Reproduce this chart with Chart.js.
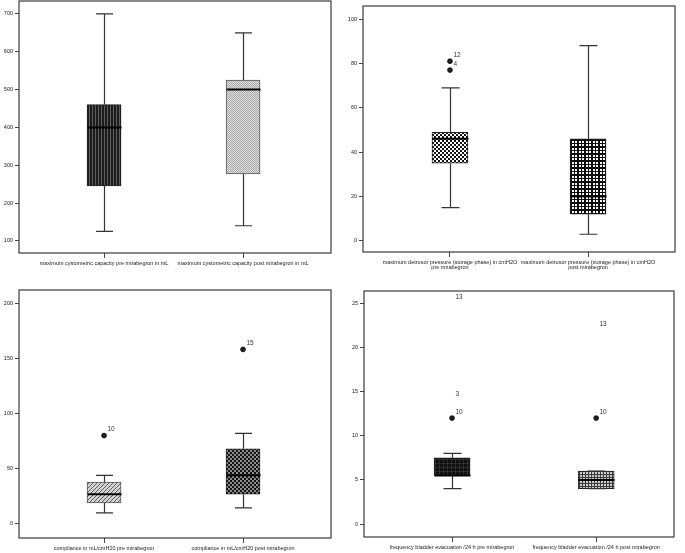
<!DOCTYPE html>
<html>
<head>
<meta charset="utf-8">
<script src="https://cdn.jsdelivr.net/npm/chart.js@4.4.1/dist/chart.umd.min.js"></script>
<style>
  body { margin: 0; background: #fff; }
  #wrap { position: relative; width: 685px; height: 553px; overflow: hidden; }
  canvas { position: absolute; }
</style>
</head>
<body>
<div id="wrap">
  <canvas id="capacity" width="340" height="280" style="left:0;top:0"></canvas>
  <canvas id="pressure" width="345" height="280" style="left:340px;top:0"></canvas>
  <canvas id="compliance" width="340" height="273" style="left:0;top:280px"></canvas>
  <canvas id="frequency" width="345" height="273" style="left:340px;top:280px"></canvas>
</div>
<script>
// Maximum cystometric capacity (mL)
const capacityLabels = ['maximum cystometric capacity pre mirabegron in mL', 'maximum cystometric capacity post mirabegron in mL'];
const capacityMin = [125, 140];
const capacityQ1 = [245, 277];
const capacityMedian = [400, 500];
const capacityQ3 = [460, 525];
const capacityMax = [700, 650];
const capacityOutliers = [[], []];
const capacityTicks = [100, 200, 300, 400, 500, 600, 700];

// Maximum detrusor pressure (cmH2O)
const pressureLabels = [['maximum detrusor pressure (storage phase) in cmH2O', 'pre mirabegron'], ['maximum detrusor pressure (storage phase) in cmH2O', 'post mirabegron']];
const pressureMin = [15, 3];
const pressureQ1 = [35, 12];
const pressureMedian = [46, 20];
const pressureQ3 = [49, 46];
const pressureMax = [69, 88];
const pressureOutliers = [[{ value: 81, label: '12' }, { value: 77, label: '4' }], []];
const pressureTicks = [0, 20, 40, 60, 80, 100];

// Compliance (mL/cmH20)
const complianceLabels = ['compliance in mL/cmH20 pre mirabegron', 'compliance in mL/cmH20 post mirabegron'];
const complianceMin = [10, 14.5];
const complianceQ1 = [19, 27];
const complianceMedian = [27, 44];
const complianceQ3 = [38, 68];
const complianceMax = [44, 82];
const complianceOutliers = [[{ value: 80, label: '10' }], [{ value: 158, label: '15' }]];
const complianceTicks = [0, 50, 100, 150, 200];

// Frequency bladder evacuation /24 h (extremes 3 and 13 have their number but no marker)
const frequencyLabels = ['frequency bladder evacuation /24 h pre mirabegron', 'frequency bladder evacuation /24 h post mirabegron'];
const frequencyMin = [4, 4];
const frequencyQ1 = [5.5, 4];
const frequencyMedian = [5.5, 5];
const frequencyQ3 = [7.5, 6];
const frequencyMax = [8, 6];
const frequencyOutliers = [
    [{ value: 12, label: '10' }, { value: 14, label: '3', noDot: true }, { value: 25, label: '13', noDot: true }],
    [{ value: 12, label: '10' }, { value: 22, label: '13', noDot: true }]
];
const frequencyTicks = [0, 5, 10, 15, 20, 25];

const FONT = 'Liberation Sans, Arial, sans-serif';

function makePattern(size, bg, draw) {
    const c = document.createElement('canvas');
    c.width = c.height = size;
    const g = c.getContext('2d');
    g.fillStyle = bg;
    g.fillRect(0, 0, size, size);
    draw(g);
    return g.createPattern(c, 'repeat');
}

const patterns = {
    stripes: makePattern(3, '#1c1c1c', g => { g.fillStyle = '#5e5e5e'; g.fillRect(2, 0, 1, 3); }),
    lightDots: makePattern(2, '#e0e0e0', g => { g.fillStyle = '#a8a8a8'; g.fillRect(0, 0, 1, 1); g.fillRect(1, 1, 1, 1); }),
    checker: makePattern(4, '#111', g => { g.fillStyle = '#fff'; g.fillRect(0, 0, 2, 2); g.fillRect(2, 2, 2, 2); }),
    grid: makePattern(7, '#0c0c0c', g => { g.fillStyle = '#fff'; [1, 4].forEach(a => [1, 4].forEach(b => g.fillRect(a, b, 2, 2))); }),
    hatch: makePattern(4, '#d4d4d4', g => { g.fillStyle = '#5a5a5a'; g.fillRect(3, 0, 1, 1); g.fillRect(2, 1, 1, 1); g.fillRect(1, 2, 1, 1); g.fillRect(0, 3, 1, 1); }),
    darkChecker: makePattern(4, '#141414', g => { g.fillStyle = '#8c8c8c'; g.fillRect(0, 0, 2, 2); g.fillRect(2, 2, 2, 2); }),
    black: makePattern(4, '#0e0e0e', g => { g.fillStyle = '#2e2e2e'; g.fillRect(3, 0, 1, 4); g.fillRect(0, 3, 4, 1); }),
    mesh: makePattern(3, '#cdcdcd', g => { g.fillStyle = '#3a3a3a'; g.fillRect(2, 0, 1, 3); g.fillRect(0, 2, 3, 1); })
};

function makeBoxChart(id, d, lay) {
    const ctx = document.getElementById(id).getContext('2d');

    // whiskers, caps, medians, outlier numbers and frame
    const boxPlugin = {
        id: 'boxPlot',
        afterDatasetsDraw(chart) {
            const { ctx, chartArea, scales: { x, y } } = chart;
            ctx.save();
            d.median.forEach((m, i) => {
                const cx = Math.round(x.getPixelForValue(i + 1)) + 0.5;
                const cap = lay.barWidth / 4;
                ctx.strokeStyle = '#333';
                ctx.lineWidth = 1.2;
                ctx.beginPath();
                ctx.moveTo(cx, y.getPixelForValue(d.q3[i]));
                ctx.lineTo(cx, y.getPixelForValue(d.max[i]));
                ctx.moveTo(cx, y.getPixelForValue(d.q1[i]));
                ctx.lineTo(cx, y.getPixelForValue(d.min[i]));
                [d.max[i], d.min[i]].forEach(v => {
                    const py = y.getPixelForValue(v);
                    ctx.moveTo(cx - cap, py);
                    ctx.lineTo(cx + cap, py);
                });
                ctx.stroke();

                ctx.strokeStyle = '#000';
                ctx.lineWidth = 2;
                ctx.beginPath();
                const my = y.getPixelForValue(m);
                ctx.moveTo(cx - lay.barWidth / 2, my);
                ctx.lineTo(cx + lay.barWidth / 2, my);
                ctx.stroke();

                ctx.fillStyle = '#333';
                ctx.font = '6.5px ' + FONT;
                ctx.textAlign = 'left';
                ctx.textBaseline = 'middle';
                d.outliers[i].forEach(o => {
                    ctx.fillText(o.label, cx + 3, y.getPixelForValue(o.value) - 6);
                });
            });
            ctx.strokeStyle = '#3a3a3a';
            ctx.lineWidth = 1.2;
            ctx.strokeRect(chartArea.left, chartArea.top, chartArea.right - chartArea.left, chartArea.bottom - chartArea.top);
            ctx.restore();
        }
    };

    const outlierPoints = [];
    const outlierRadius = [];
    d.outliers.forEach((list, i) => list.forEach(o => {
        outlierPoints.push({ x: i + 1, y: o.value });
        outlierRadius.push(o.noDot ? 0 : 2.4);
    }));

    return new Chart(ctx, {
        type: 'bar',
        data: {
            datasets: [{
                data: d.q1.map((q, i) => ({ x: i + 1, y: [q, d.q3[i]] })),
                backgroundColor: d.fills,
                borderColor: d.borders || '#222',
                borderWidth: 1,
                borderSkipped: false,
                barThickness: lay.barWidth
            }, {
                type: 'scatter',
                data: outlierPoints,
                pointRadius: outlierRadius,
                backgroundColor: '#222',
                borderColor: '#000',
                borderWidth: 0.8
            }]
        },
        options: {
            responsive: false,
            animation: false,
            layout: { padding: { top: lay.top, right: lay.right, left: 0, bottom: 0 } },
            plugins: { legend: { display: false }, tooltip: { enabled: false } },
            scales: {
                x: {
                    type: 'linear',
                    offset: false,
                    min: lay.xMin,
                    max: lay.xMax,
                    afterBuildTicks: s => { s.ticks = [1, 2].map(v => ({ value: v })); },
                    afterFit: s => { s.height = lay.xHeight; s.paddingLeft = 0; s.paddingRight = 0; },
                    ticks: {
                        autoSkip: false,
                        maxRotation: 0,
                        padding: 3,
                        color: '#222',
                        font: { family: FONT, size: 5.5, lineHeight: 0.9 },
                        callback: v => d.labels[v - 1]
                    },
                    grid: { offset: false, drawOnChartArea: false, tickLength: 5, color: '#444' },
                    border: { display: false }
                },
                y: {
                    min: lay.yMin,
                    max: lay.yMax,
                    afterBuildTicks: s => { s.ticks = d.ticks.map(v => ({ value: v })); },
                    afterFit: s => { s.width = lay.yWidth; s.paddingTop = 0; s.paddingBottom = 0; },
                    ticks: { padding: 2, color: '#222', font: { family: FONT, size: 5.5 } },
                    grid: { drawOnChartArea: false, tickLength: 4, color: '#444' },
                    border: { display: false }
                }
            }
        },
        plugins: [boxPlugin]
    });
}

makeBoxChart('capacity', {
    labels: capacityLabels, min: capacityMin, q1: capacityQ1, median: capacityMedian,
    q3: capacityQ3, max: capacityMax, outliers: capacityOutliers, ticks: capacityTicks,
    fills: [patterns.stripes, patterns.lightDots], borders: ['#222', '#555']
}, { top: 1, right: 9, yWidth: 19, xHeight: 27, xMin: 0.388, xMax: 2.633, yMin: 68, yMax: 734, barWidth: 34 });

makeBoxChart('pressure', {
    labels: pressureLabels, min: pressureMin, q1: pressureQ1, median: pressureMedian,
    q3: pressureQ3, max: pressureMax, outliers: pressureOutliers, ticks: pressureTicks,
    fills: [patterns.checker, patterns.grid]
}, { top: 6, right: 10, yWidth: 23, xHeight: 28, xMin: 0.37, xMax: 2.63, yMin: -5, yMax: 105.9, barWidth: 36 });

makeBoxChart('compliance', {
    labels: complianceLabels, min: complianceMin, q1: complianceQ1, median: complianceMedian,
    q3: complianceQ3, max: complianceMax, outliers: complianceOutliers, ticks: complianceTicks,
    fills: [patterns.hatch, patterns.darkChecker], borders: ['#555', '#222']
}, { top: 10, right: 9, yWidth: 19, xHeight: 15, xMin: 0.388, xMax: 2.633, yMin: -12.7, yMax: 211.8, barWidth: 34 });

makeBoxChart('frequency', {
    labels: frequencyLabels, min: frequencyMin, q1: frequencyQ1, median: frequencyMedian,
    q3: frequencyQ3, max: frequencyMax, outliers: frequencyOutliers, ticks: frequencyTicks,
    fills: [patterns.black, patterns.mesh]
}, { top: 11, right: 11, yWidth: 24, xHeight: 16, xMin: 0.389, xMax: 2.54, yMin: -1.47, yMax: 26.4, barWidth: 36 });
</script>
</body>
</html>
